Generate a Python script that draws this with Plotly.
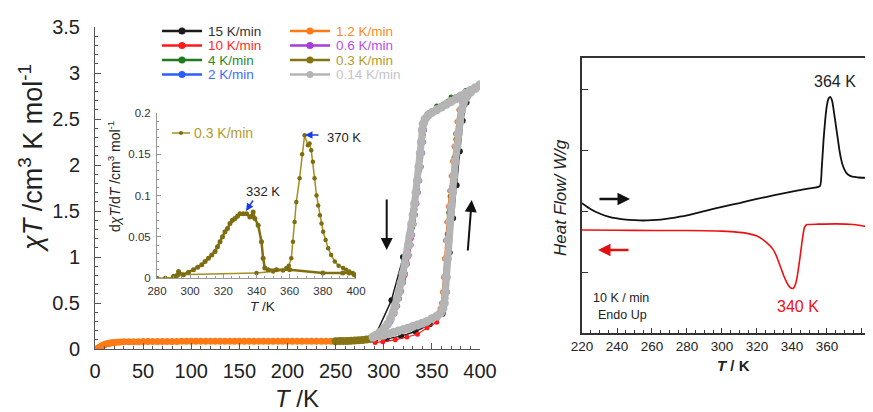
import plotly.graph_objects as go

# the page body adds an 8 px margin; the figure is sized so that it fills the 873x412 window
OX, OY = 8, 8
FW, FH = 865, 404
FONT = "Liberation Sans, Arial, sans-serif"

def px(x):
    return (x - OX) / FW

def py(y):
    return 1 - (y - OY) / FH

# ---------------- main chart data (chi*T vs T) ----------------
rates = ["15 K/min", "10 K/min", "4 K/min", "2 K/min",
         "1.2 K/min", "0.6 K/min", "0.3 K/min", "0.14 K/min"]
line_colors = ["#1a1a1a", "#ff1a1a", "#1f7a1f", "#2a5cff",
               "#ff7a14", "#a63ddb", "#857415", "#b4b4b4"]
text_colors = ["#333333", "#ff2a2a", "#2a8a2a", "#3c6cff",
               "#ff8a1e", "#b650e6", "#b39b2a", "#c4c4c4"]

# 15 K/min
TH_15 = [291, 303, 318, 333, 348, 361, 365.5, 368.5, 372, 375.7, 379, 382, 386, 393, 400]
XH_15 = [0.10, 0.11, 0.14, 0.19, 0.27, 0.38, 0.62, 1.05, 1.42, 1.78, 2.15, 2.48, 2.68, 2.81, 2.87]
TC_15 = [400, 385, 370, 355, 345, 340.5, 336, 331, 326, 320, 308, 291]
XC_15 = [2.87, 2.78, 2.69, 2.60, 2.52, 2.38, 1.98, 1.52, 1.22, 1.00, 0.53, 0.14]

# 10 K/min
TH_10 = [291, 299, 312, 324, 335, 345, 355, 362, 364.5, 366, 367.5, 369, 370.5, 372, 373.5, 375, 376.5, 378, 379.5, 381.5, 384, 388, 394, 400]
XH_10 = [0.07, 0.08, 0.10, 0.13, 0.16, 0.23, 0.29, 0.39, 0.55, 0.80, 1.05, 1.28, 1.48, 1.66, 1.84, 2.01, 2.17, 2.32, 2.46, 2.59, 2.69, 2.77, 2.83, 2.87]
TC_10 = [400, 385, 370, 355, 346, 342.5, 340.5, 338.5, 336, 333.5, 331, 328.5, 325.5, 322, 318, 313, 307, 300, 293]
XC_10 = [2.87, 2.78, 2.69, 2.60, 2.54, 2.47, 2.30, 2.08, 1.83, 1.60, 1.40, 1.20, 1.00, 0.80, 0.62, 0.45, 0.31, 0.20, 0.13]

# 4 K/min
TH_4 = [290, 305, 320, 335, 350, 358, 361, 362.5, 363.5, 364.5, 366, 367.5, 369, 371, 373, 375, 377.5, 380, 384, 390, 400]
XH_4 = [0.12, 0.155, 0.20, 0.26, 0.33, 0.39, 0.47, 0.62, 0.80, 1.00, 1.25, 1.48, 1.66, 1.88, 2.08, 2.28, 2.48, 2.62, 2.72, 2.80, 2.87]
TC_4 = [400, 385, 370, 355, 347, 344, 342.5, 341, 339.5, 337.5, 335, 332.5, 330, 327, 324, 320.5, 316.5, 312, 306, 299, 290]
XC_4 = [2.87, 2.81, 2.74, 2.64, 2.57, 2.52, 2.46, 2.33, 2.15, 1.95, 1.73, 1.52, 1.32, 1.12, 0.94, 0.76, 0.60, 0.45, 0.32, 0.21, 0.13]

# 2 K/min
TH_2 = [290, 300, 310, 320, 330, 340, 350, 356.5, 359, 360.5, 361.5, 362.5, 363.5, 364.5, 366, 367.5, 369, 370.5, 372, 373.5, 375, 376.5, 378.5, 381, 385, 390, 395, 400]
XH_2 = [0.12, 0.145, 0.175, 0.205, 0.24, 0.275, 0.32, 0.37, 0.42, 0.50, 0.62, 0.78, 0.98, 1.18, 1.38, 1.55, 1.72, 1.88, 2.04, 2.20, 2.34, 2.47, 2.60, 2.69, 2.75, 2.80, 2.84, 2.87]
TC_2 = [400, 392, 384, 376, 368, 360, 352, 347, 344.5, 342.5, 342, 341, 340, 338.5, 337, 335.5, 334, 332.5, 331, 329.5, 328, 326, 324, 322, 320, 318, 316, 314, 311, 307, 302, 296, 291]
XC_2 = [2.87, 2.82, 2.77, 2.73, 2.68, 2.63, 2.58, 2.55, 2.51, 2.46, 2.38, 2.25, 2.13, 1.98, 1.83, 1.70, 1.58, 1.46, 1.36, 1.24, 1.13, 1.02, 0.92, 0.82, 0.72, 0.63, 0.55, 0.47, 0.38, 0.30, 0.23, 0.17, 0.13]

# 1.2 K/min (loop)
TH_12 = [290, 305, 320, 335, 350, 356, 358.5, 360, 361, 362, 363, 364, 365.5, 367, 368.5, 370, 371.5, 373, 374.5, 376, 378, 381, 386, 393, 400]
XH_12 = [0.12, 0.15, 0.20, 0.26, 0.33, 0.38, 0.44, 0.50, 0.62, 0.78, 0.98, 1.18, 1.38, 1.55, 1.72, 1.88, 2.04, 2.20, 2.34, 2.47, 2.60, 2.69, 2.76, 2.82, 2.87]
TC_12 = [400, 385, 370, 355, 346, 343, 341.5, 340.5, 339.5, 338, 336, 334, 332, 330, 328, 325.5, 323, 320, 317, 313, 309, 303, 296, 290]
XC_12 = [2.87, 2.78, 2.69, 2.60, 2.54, 2.50, 2.44, 2.35, 2.22, 2.05, 1.86, 1.68, 1.52, 1.38, 1.24, 1.08, 0.95, 0.80, 0.66, 0.52, 0.40, 0.28, 0.19, 0.13]
# 1.2 K/min low-temperature part
T_low = [2, 3, 4, 5, 6, 7, 8, 9, 10, 12, 14, 16, 18, 20, 23, 26, 30,
         35, 40, 45, 50, 55, 60, 65, 70, 75, 80, 85, 90, 95, 100, 105, 110,
         115, 120, 125, 130, 135, 140, 145, 150, 155, 160, 165, 170, 175, 180,
         185, 190, 195, 200, 205, 210, 215, 220, 225, 230, 235, 240, 245, 250]
X_low = [0.0, 0.006, 0.013, 0.02, 0.027, 0.033, 0.039, 0.044, 0.049, 0.056, 0.061, 0.065, 0.068, 0.071, 0.074, 0.076, 0.078,
         0.079, 0.080, 0.080, 0.081, 0.081, 0.081, 0.082, 0.082, 0.082, 0.082, 0.082, 0.083, 0.083, 0.083, 0.083, 0.083,
         0.083, 0.083, 0.083, 0.084, 0.084, 0.084, 0.084, 0.084, 0.084, 0.084, 0.084, 0.084, 0.084, 0.084,
         0.084, 0.084, 0.084, 0.084, 0.084, 0.084, 0.084, 0.084, 0.084, 0.084, 0.085, 0.085, 0.085, 0.085]

# 0.6 K/min
TH_06 = [290, 300, 310, 320, 330, 340, 350, 357, 359.5, 361, 362, 363, 364, 365, 366.5, 368, 369.5, 371, 372.5, 374, 375.5, 377, 379, 381.5, 385, 390, 395, 400]
XH_06 = [0.12, 0.145, 0.175, 0.205, 0.24, 0.275, 0.32, 0.37, 0.43, 0.50, 0.62, 0.78, 0.98, 1.18, 1.38, 1.55, 1.72, 1.88, 2.04, 2.20, 2.34, 2.47, 2.60, 2.69, 2.75, 2.80, 2.84, 2.87]
TC_06 = [400, 392, 384, 376, 368, 360, 352, 347.5, 345, 343, 342.5, 341.5, 340.5, 339, 337.5, 336, 334.5, 333, 331.5, 330, 328.5, 326.5, 324.5, 322.5, 320.5, 318.5, 316.5, 314.5, 311.5, 307.5, 302.5, 296.5, 291]
XC_06 = [2.87, 2.82, 2.77, 2.73, 2.68, 2.63, 2.58, 2.55, 2.51, 2.46, 2.38, 2.25, 2.13, 1.98, 1.83, 1.70, 1.58, 1.46, 1.36, 1.24, 1.13, 1.02, 0.92, 0.82, 0.72, 0.63, 0.55, 0.47, 0.38, 0.30, 0.23, 0.17, 0.13]

# 0.3 K/min (loop)
TH_03 = [290, 300, 310, 320, 330, 340, 350, 358, 361, 362.5, 363.5, 364.5, 365.5, 366.5, 368, 369.5, 371, 372.5, 374, 375.5, 377, 378.5, 380.5, 383, 387, 393, 400]
XH_03 = [0.12, 0.14, 0.165, 0.195, 0.23, 0.27, 0.32, 0.38, 0.44, 0.50, 0.62, 0.78, 0.98, 1.18, 1.38, 1.55, 1.72, 1.88, 2.04, 2.20, 2.34, 2.47, 2.60, 2.68, 2.75, 2.81, 2.87]
TC_03 = [400, 390, 380, 370, 360, 350, 345.5, 342.5, 340.5, 339.5, 338.5, 337.5, 336, 334.5, 333, 331.5, 330, 328.5, 327, 325.5, 323.5, 321.5, 319.5, 317.5, 315.5, 313.5, 311.5, 309.5, 306, 302, 297, 292]
XC_03 = [2.87, 2.81, 2.75, 2.69, 2.63, 2.57, 2.53, 2.49, 2.44, 2.36, 2.24, 2.12, 1.97, 1.82, 1.69, 1.57, 1.45, 1.35, 1.23, 1.12, 1.01, 0.91, 0.81, 0.71, 0.62, 0.54, 0.46, 0.39, 0.31, 0.24, 0.18, 0.14]
# 0.3 K/min 250-290 K part
T_mid = [250, 254, 258, 262, 266, 270, 274, 278, 282, 286, 290]
X_mid = [0.085, 0.086, 0.087, 0.088, 0.090, 0.092, 0.095, 0.098, 0.102, 0.108, 0.115]

# 0.14 K/min
TH_014 = [289, 295, 300, 305, 310, 315, 320, 325, 330, 335, 340, 345, 350, 355, 359, 361.5, 363, 364, 365, 366, 367, 368.5, 370, 371.5, 373, 374.5, 376, 377.5, 379, 381, 383, 386, 390, 395, 400]
XH_014 = [0.13, 0.14, 0.15, 0.165, 0.18, 0.195, 0.21, 0.225, 0.245, 0.26, 0.28, 0.30, 0.33, 0.355, 0.39, 0.44, 0.50, 0.62, 0.78, 0.98, 1.18, 1.38, 1.55, 1.72, 1.88, 2.04, 2.20, 2.34, 2.47, 2.60, 2.68, 2.74, 2.79, 2.83, 2.87]
TC_014 = [400, 395, 390, 385, 380, 375, 370, 365, 360, 355, 350, 346, 343, 341, 340, 339, 338, 336.5, 335, 333.5, 332, 330.5, 329, 327.5, 326, 324, 322, 320, 318, 316, 314, 312, 310, 307, 304, 300, 296, 292, 289]
XC_014 = [2.87, 2.84, 2.81, 2.78, 2.75, 2.72, 2.69, 2.66, 2.63, 2.60, 2.57, 2.54, 2.50, 2.45, 2.38, 2.25, 2.13, 1.98, 1.83, 1.70, 1.58, 1.46, 1.36, 1.24, 1.13, 1.02, 0.92, 0.82, 0.72, 0.63, 0.55, 0.47, 0.40, 0.33, 0.27, 0.22, 0.18, 0.15, 0.13]

loops_T = [TH_15 + TC_15, TH_10 + TC_10, TH_4 + TC_4, TH_2 + TC_2,
           TH_12 + TC_12, TH_06 + TC_06, TH_03 + TC_03, TH_014 + TC_014]
loops_X = [XH_15 + XC_15, XH_10 + XC_10, XH_4 + XC_4, XH_2 + XC_2,
           XH_12 + XC_12, XH_06 + XC_06, XH_03 + XC_03, XH_014 + XC_014]

# ---------------- inset data (d chiT / dT, 0.3 K/min) ----------------
dT_heat = [280, 285, 290, 293, 340, 350, 356, 358, 359.5, 361, 362, 363, 364, 366, 367.5, 369, 371, 372, 373, 374, 375,
           376.2, 377.2, 378.2, 379.2, 380.2, 381.7, 383.2, 385, 387.2, 389.5, 392.2, 394, 396, 398, 400]
dX_heat = [0.0, 0.0, 0.001, 0.004, 0.006, 0.008, 0.009, 0.012, 0.015, 0.024, 0.044, 0.068, 0.092, 0.121, 0.15, 0.173, 0.161, 0.163, 0.155, 0.141, 0.121,
           0.10, 0.088, 0.076, 0.066, 0.056, 0.046, 0.036, 0.028, 0.02, 0.015, 0.012, 0.01, 0.008, 0.006, 0.004]
dT_cool = [400, 399, 396, 392, 380, 360, 352, 347, 345, 344, 343, 341, 339, 338, 337, 336, 334, 332, 330, 328.5, 327, 325.5,
           324, 322.5, 321, 319.5, 318, 316.5, 315, 313, 311, 309, 307, 304.5, 302, 299, 296, 293, 292, 290]
dX_cool = [0.003, 0.004, 0.006, 0.006, 0.006, 0.01, 0.01, 0.01, 0.012, 0.024, 0.044, 0.064, 0.072, 0.08, 0.075, 0.074, 0.078, 0.078, 0.078, 0.075, 0.072, 0.07,
           0.066, 0.06, 0.056, 0.05, 0.044, 0.038, 0.032, 0.028, 0.024, 0.02, 0.016, 0.013, 0.01, 0.007, 0.004, 0.008, 0.003, 0.002]

# ---------------- DSC data ----------------
dsc_heat_T = [220, 225, 230, 235, 240, 245, 250, 255, 260, 265, 270, 280, 290, 300, 310, 320, 330, 340, 350, 356,
              357, 358, 359, 360, 361, 362, 363, 364, 365, 366, 367, 368, 369, 370, 371, 372, 374, 376, 378, 382, 386.3]
dsc_heat_Y = [2.13, 2.03, 1.96, 1.91, 1.88, 1.86, 1.85, 1.845, 1.85, 1.86, 1.88, 1.93, 2.0, 2.07, 2.13, 2.2, 2.26, 2.32, 2.37, 2.41,
              2.7, 3.15, 3.5, 3.74, 3.85, 3.87, 3.8, 3.62, 3.42, 3.22, 3.02, 2.86, 2.75, 2.68, 2.63, 2.6, 2.57, 2.56, 2.55, 2.545, 2.54]
dsc_cool_T = [220, 240, 260, 280, 300, 310, 315, 320, 323, 326, 329, 331, 333, 335, 337, 338.5, 340, 341, 342, 343, 344,
              345, 346, 347, 348, 349, 355, 365, 375, 380, 386.3]
dsc_cool_Y = [1.69, 1.685, 1.68, 1.68, 1.67, 1.65, 1.63, 1.59, 1.54, 1.47, 1.38, 1.27, 1.12, 0.96, 0.83, 0.76, 0.73, 0.74, 0.8, 0.93, 1.12,
              1.33, 1.55, 1.72, 1.77, 1.78, 1.785, 1.79, 1.78, 1.76, 1.72]

fig = go.Figure()

# low temperature parts
fig.add_trace(go.Scatter(x=T_low, y=X_low, mode="lines+markers", xaxis="x", yaxis="y",
                         line=dict(color="#ff7a14", width=2), marker=dict(size=7, color="#ff7a14"),
                         showlegend=False, hoverinfo="skip"))
fig.add_trace(go.Scatter(x=T_mid, y=X_mid, mode="lines+markers", xaxis="x", yaxis="y",
                         line=dict(color="#857415", width=2), marker=dict(size=8, color="#857415"),
                         showlegend=False, hoverinfo="skip"))

marker_sizes = [6, 5, 5, 5, 5, 5, 5, 9]
line_widths = [1.5, 1.2, 1.2, 1.2, 1.5, 1.2, 1.5, 7]
for i, name in enumerate(rates):
    fig.add_trace(go.Scatter(x=loops_T[i], y=loops_X[i], mode="lines+markers", name=name,
                             xaxis="x", yaxis="y",
                             line=dict(color=line_colors[i], width=line_widths[i]),
                             marker=dict(size=marker_sizes[i], color=line_colors[i]),
                             showlegend=False))

# inset
fig.add_trace(go.Scatter(x=dT_heat, y=dX_heat, mode="lines+markers", xaxis="x2", yaxis="y2",
                         line=dict(color="#a38f22", width=1.5), marker=dict(size=4.5, color="#7d6d10"),
                         showlegend=False))
fig.add_trace(go.Scatter(x=dT_cool, y=dX_cool, mode="lines+markers", xaxis="x2", yaxis="y2",
                         line=dict(color="#7f6f12", width=2.5), marker=dict(size=5, color="#7d6d10"),
                         showlegend=False))

# DSC
fig.add_trace(go.Scatter(x=dsc_heat_T, y=dsc_heat_Y, mode="lines", xaxis="x3", yaxis="y3",
                         line=dict(color="#111111", width=1.8, shape="spline", smoothing=0.5), showlegend=False))
fig.add_trace(go.Scatter(x=dsc_cool_T, y=dsc_cool_Y, mode="lines", xaxis="x3", yaxis="y3",
                         line=dict(color="#ee1111", width=1.6, shape="spline", smoothing=0.5), showlegend=False))

axis_common = dict(showgrid=False, zeroline=False, showline=True, ticks="inside", automargin=False)

fig.update_layout(
    width=FW, height=FH, autosize=False,
    margin=dict(l=0, r=0, t=0, b=0, pad=0),
    paper_bgcolor="white", plot_bgcolor="rgba(0,0,0,0)",
    showlegend=False,
    font=dict(family=FONT, color="#222222"),
    xaxis=dict(domain=[px(95), px(480)], range=[0, 400], anchor="y", dtick=50, tick0=0,
               linecolor="#555555", linewidth=1, ticklen=6, tickcolor="#555555",
               minor=dict(dtick=10, ticklen=3, ticks="inside", tickcolor="#555555"),
               tickfont=dict(size=20, color="#222222"), ticklabelstandoff=4, **axis_common),
    yaxis=dict(domain=[py(349), py(27)], range=[0, 3.5], anchor="x", dtick=0.5, tick0=0,
               linecolor="#555555", linewidth=1, ticklen=6, tickcolor="#555555",
               minor=dict(dtick=0.1, ticklen=3, ticks="inside", tickcolor="#555555"),
               tickfont=dict(size=20, color="#222222"), ticklabelstandoff=10, **axis_common),
    xaxis2=dict(domain=[px(157), px(356)], range=[280, 400], anchor="y2", dtick=20, tick0=280,
                linecolor="#999999", linewidth=1, ticklen=4, tickcolor="#999999",
                minor=dict(dtick=5, ticklen=2, ticks="inside", tickcolor="#999999"),
                tickfont=dict(size=11.5, color="#333333"), ticklabelstandoff=2, **axis_common),
    yaxis2=dict(domain=[py(278), py(113)], range=[0, 0.2], anchor="x2", dtick=0.05, tick0=0,
                linecolor="#999999", linewidth=1, ticklen=4, tickcolor="#999999",
                minor=dict(dtick=0.01, ticklen=2, ticks="inside", tickcolor="#999999"),
                tickfont=dict(size=11.5, color="#333333"), ticklabelstandoff=3, **axis_common),
    xaxis3=dict(domain=[px(582), 1.0], range=[220, 386.3], anchor="y3", dtick=20, tick0=220,
                linecolor="#333333", linewidth=1.5, mirror=True, ticklen=5, tickcolor="#333333",
                minor=dict(dtick=5, ticklen=3, ticks="inside", tickcolor="#333333"),
                tickfont=dict(size=13.5, color="#222222"), ticklabelstandoff=0, **axis_common),
    yaxis3=dict(domain=[py(333), py(58)], range=[0, 4.51], anchor="x3", dtick=1, tick0=0,
                showticklabels=False, linecolor="#333333", linewidth=1.5, ticklen=6,
                tickcolor="#333333", **axis_common),
)

annotations = []
shapes = []

# axis titles
annotations.append(dict(x=px(31), y=py(158), xref="paper", yref="paper", textangle=-90,
                        text="<i>χT</i> /cm<sup>3</sup> K mol<sup>-1</sup>", showarrow=False,
                        font=dict(size=27, color="#222222"), xanchor="center", yanchor="middle"))
annotations.append(dict(x=px(297), y=py(398), xref="paper", yref="paper",
                        text="<i>T</i> /K", showarrow=False,
                        font=dict(size=24, color="#222222"), xanchor="center", yanchor="middle"))
annotations.append(dict(x=px(262), y=py(306), xref="paper", yref="paper",
                        text="<i>T</i> /K", showarrow=False,
                        font=dict(size=13.5, color="#222222"), xanchor="center", yanchor="middle"))
annotations.append(dict(x=px(114), y=py(177), xref="paper", yref="paper", textangle=-90,
                        text="d<i>χT</i>/d<i>T</i> /cm<sup>3</sup> mol<sup>-1</sup>", showarrow=False,
                        font=dict(size=14, color="#222222"), xanchor="center", yanchor="middle"))
annotations.append(dict(x=px(560), y=py(198), xref="paper", yref="paper", textangle=-90,
                        text="<i>Heat Flow/ W/g</i>", showarrow=False,
                        font=dict(size=17, color="#222222"), xanchor="center", yanchor="middle"))
annotations.append(dict(x=px(733), y=py(365), xref="paper", yref="paper",
                        text="<b><i>T</i> / K</b>", showarrow=False,
                        font=dict(size=15, color="#222222"), xanchor="center", yanchor="middle"))

# legend (drawn manually)
row_y = [31, 45.5, 60, 74.5]
col_x = [(162, 202, 206), (290, 330, 334)]
for i, name in enumerate(rates):
    cx0, cx1, tx = col_x[i // 4]
    ry = row_y[i % 4]
    shapes.append(dict(type="line", xref="paper", yref="paper", x0=px(cx0), x1=px(cx1),
                       y0=py(ry), y1=py(ry), line=dict(color=line_colors[i], width=2.5)))
    mc = (cx0 + cx1) / 2
    shapes.append(dict(type="circle", xref="paper", yref="paper", x0=px(mc - 3.5), x1=px(mc + 3.5),
                       y0=py(ry + 3.5), y1=py(ry - 3.5), fillcolor=line_colors[i],
                       line=dict(color=line_colors[i], width=0)))
    annotations.append(dict(x=px(tx), y=py(ry), xref="paper", yref="paper", text=name,
                            showarrow=False, xanchor="left", yanchor="middle",
                            font=dict(size=13.5, color=text_colors[i])))

# inset legend
shapes.append(dict(type="line", xref="paper", yref="paper", x0=px(172), x1=px(190),
                   y0=py(133), y1=py(133), line=dict(color="#a38f22", width=1.5)))
shapes.append(dict(type="circle", xref="paper", yref="paper", x0=px(179), x1=px(183),
                   y0=py(135), y1=py(131), fillcolor="#7d6d10", line=dict(width=0)))
annotations.append(dict(x=px(192), y=py(133), xref="paper", yref="paper", text="0.3 K/min",
                        showarrow=False, xanchor="left", yanchor="middle",
                        font=dict(size=14, color="#b39b2a")))

# inset peak labels
annotations.append(dict(x=px(325), y=py(137), xref="paper", yref="paper", text="370 K",
                        showarrow=False, xanchor="left", yanchor="middle",
                        font=dict(size=13, color="#222222")))
annotations.append(dict(x=px(305), y=py(135), xref="paper", yref="paper", text="",
                        showarrow=True, ax=15, ay=0, arrowhead=2, arrowsize=1, arrowwidth=1.5,
                        arrowcolor="#1a3ae6"))
annotations.append(dict(x=px(263), y=py(192), xref="paper", yref="paper", text="332 K",
                        showarrow=False, xanchor="center", yanchor="middle",
                        font=dict(size=13, color="#222222")))
annotations.append(dict(x=px(246), y=py(211), xref="paper", yref="paper", text="",
                        showarrow=True, ax=8, ay=-12, arrowhead=2, arrowsize=1, arrowwidth=1.5,
                        arrowcolor="#1a3ae6"))

# main arrows
annotations.append(dict(x=px(386.7), y=py(250), xref="paper", yref="paper", text="",
                        showarrow=True, ax=0, ay=-52, arrowhead=2, arrowsize=1.2, arrowwidth=2,
                        arrowcolor="#111111"))
annotations.append(dict(x=px(471.7), y=py(200), xref="paper", yref="paper", text="",
                        showarrow=True, ax=-4, ay=52, arrowhead=2, arrowsize=1.2, arrowwidth=2,
                        arrowcolor="#111111"))

# DSC labels and arrows
annotations.append(dict(x=px(835), y=py(82), xref="paper", yref="paper", text="364 K",
                        showarrow=False, xanchor="center", yanchor="middle",
                        font=dict(size=16, color="#222222")))
annotations.append(dict(x=px(798), y=py(306), xref="paper", yref="paper", text="340 K",
                        showarrow=False, xanchor="center", yanchor="middle",
                        font=dict(size=16, color="#ee1111")))
annotations.append(dict(x=px(621), y=py(298), xref="paper", yref="paper", text="10 K / min",
                        showarrow=False, xanchor="center", yanchor="middle",
                        font=dict(size=12.5, color="#222222")))
annotations.append(dict(x=px(622), y=py(315), xref="paper", yref="paper", text="Endo Up",
                        showarrow=False, xanchor="center", yanchor="middle",
                        font=dict(size=12.5, color="#222222")))
annotations.append(dict(x=px(630), y=py(199), xref="paper", yref="paper", text="",
                        showarrow=True, ax=-32, ay=0, arrowhead=2, arrowsize=1, arrowwidth=2.5,
                        arrowcolor="#111111"))
annotations.append(dict(x=px(598), y=py(250), xref="paper", yref="paper", text="",
                        showarrow=True, ax=32, ay=0, arrowhead=2, arrowsize=1, arrowwidth=2.5,
                        arrowcolor="#e01010"))

fig.update_layout(annotations=annotations, shapes=shapes)

fig.write_html("out.html")
